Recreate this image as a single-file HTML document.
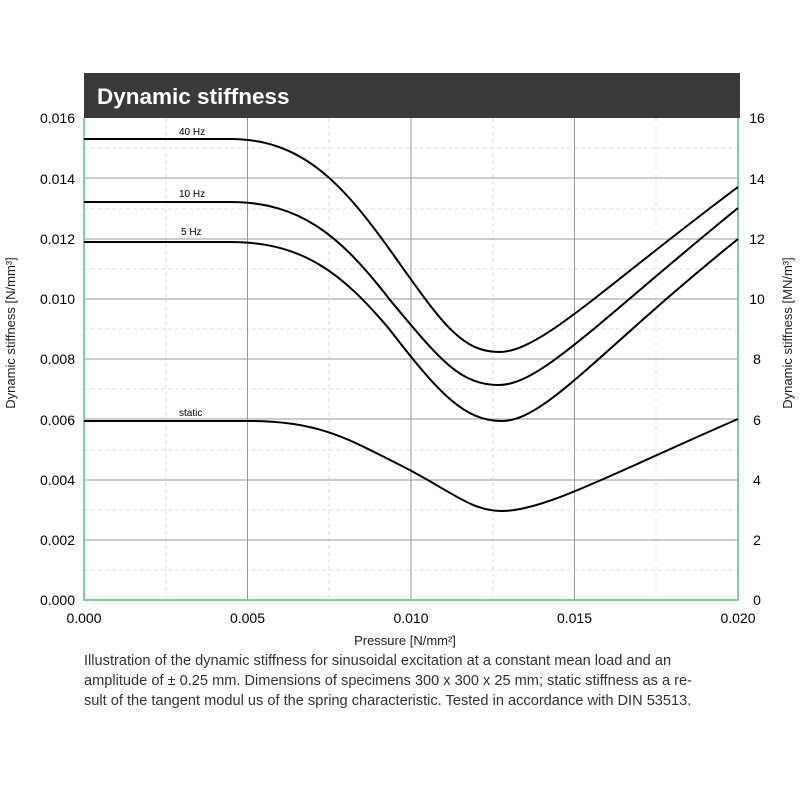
<!DOCTYPE html>
<html><head><meta charset="utf-8"><style>
body{margin:0;background:#fff;}
</style></head><body>
<svg width="800" height="800" xmlns="http://www.w3.org/2000/svg" font-family="Liberation Sans, sans-serif">
<rect width="800" height="800" fill="#fff"/>
<rect x="84" y="73" width="656" height="45" fill="#3a3a3b"/>
<text x="97" y="104" fill="#fff" font-size="22.5" font-weight="bold">Dynamic stiffness</text>
<g stroke="#ddd" stroke-dasharray="4,3" stroke-width="1">
<line x1="166" y1="118" x2="166" y2="600"/><line x1="329" y1="118" x2="329" y2="600"/>
<line x1="493" y1="118" x2="493" y2="600"/><line x1="656" y1="118" x2="656" y2="600"/>
<line x1="84" y1="148" x2="738" y2="148"/><line x1="84" y1="209" x2="738" y2="209"/>
<line x1="84" y1="269" x2="738" y2="269"/><line x1="84" y1="329" x2="738" y2="329"/>
<line x1="84" y1="389" x2="738" y2="389"/><line x1="84" y1="450" x2="738" y2="450"/>
<line x1="84" y1="510" x2="738" y2="510"/><line x1="84" y1="570" x2="738" y2="570"/>
</g>
<g stroke="#999" stroke-width="1">
<line x1="247.5" y1="118" x2="247.5" y2="600"/><line x1="411" y1="118" x2="411" y2="600"/><line x1="574.5" y1="118" x2="574.5" y2="600"/>
<line x1="84" y1="178" x2="738" y2="178"/><line x1="84" y1="239" x2="738" y2="239"/>
<line x1="84" y1="299" x2="738" y2="299"/><line x1="84" y1="359" x2="738" y2="359"/>
<line x1="84" y1="419" x2="738" y2="419"/><line x1="84" y1="480" x2="738" y2="480"/>
<line x1="84" y1="540" x2="738" y2="540"/>
</g>
<polyline points="84,118 84,600 738,600 738,118" fill="none" stroke="#86cc9c" stroke-width="2"/>
<g fill="none" stroke="#000" stroke-width="2">
<path d="M84,139 L230,139 C300,139 340,180 390,250 C440,320 460,352 499,352 C540,352 600,290 738,187"/>
<path d="M84,202 L230,202 C300,202 340,235 390,300 C440,360 460,385 499,385 C540,385 600,320 738,208"/>
<path d="M84,242 L230,242 C300,242 340,270 390,330 C440,395 465,421 502,421 C545,421 600,350 738,239"/>
<path d="M84,421 L250,421 C320,421 350,440 400,465 C450,490 470,511 502,511 C545,511 620,470 738,419"/>
</g>
<g font-size="10" fill="#000">
<text x="179" y="135">40 Hz</text><text x="179" y="197">10 Hz</text>
<text x="181" y="235">5 Hz</text><text x="179" y="416">static</text>
</g>
<g font-size="14" fill="#000" text-anchor="end">
<text x="75" y="123">0.016</text><text x="75" y="184">0.014</text><text x="75" y="244">0.012</text>
<text x="75" y="304">0.010</text><text x="75" y="364">0.008</text><text x="75" y="425">0.006</text>
<text x="75" y="485">0.004</text><text x="75" y="545">0.002</text><text x="75" y="605">0.000</text>
</g>
<g font-size="14" fill="#000" text-anchor="middle">
<text x="757" y="123">16</text><text x="757" y="184">14</text><text x="757" y="244">12</text>
<text x="757" y="304">10</text><text x="757" y="364">8</text><text x="757" y="425">6</text>
<text x="757" y="485">4</text><text x="757" y="545">2</text><text x="757" y="605">0</text>
<text x="84" y="623">0.000</text><text x="247.5" y="623">0.005</text><text x="411" y="623">0.010</text>
<text x="574.5" y="623">0.015</text><text x="738" y="623">0.020</text>
</g>
<text x="405" y="645" font-size="13" text-anchor="middle" fill="#222">Pressure [N/mm²]</text>
<text transform="translate(15,333) rotate(-90)" font-size="13" text-anchor="middle" fill="#222">Dynamic stiffness  [N/mm³]</text>
<text transform="translate(792,333) rotate(-90)" font-size="13" text-anchor="middle" fill="#222">Dynamic stiffness  [MN/m³]</text>
<g font-size="14.6" fill="#333">
<text x="84" y="665">Illustration of the dynamic stiffness for sinusoidal excitation at a constant mean load and an</text>
<text x="84" y="685">amplitude of ± 0.25 mm.  Dimensions of specimens 300 x 300 x 25 mm; static stiffness as a re-</text>
<text x="84" y="705">sult of the tangent modul us of the spring characteristic. Tested in accordance with DIN 53513.</text>
</g>
</svg>
</body></html>
